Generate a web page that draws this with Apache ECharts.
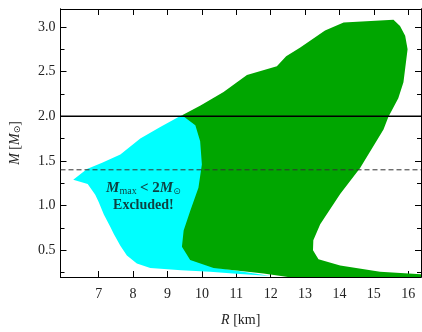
<!DOCTYPE html>
<html><head><meta charset="utf-8">
<script src="https://cdn.jsdelivr.net/npm/echarts@6/dist/echarts.min.js"></script>
<style>html,body{margin:0;padding:0;background:#fff}#c{width:422px;height:332px}</style>
</head><body><div id="c"></div>
<script>
const xRange = [5.89, 16.37];
const yRange = [0.2, 3.2];
const xTicks = [7, 8, 9, 10, 11, 12, 13, 14, 15, 16];
const yMajor = [0.5, 1.0, 1.5, 2.0, 2.5, 3.0];
const yMinor = [0.25, 0.75, 1.25, 1.75, 2.25, 2.75];
const excludedRegion = [
  [6.26,1.29],[6.66,1.41],[7.1,1.48],[7.63,1.57],[8.21,1.75],[8.79,1.88],[9.32,1.99],[9.42,2.01],
  [9.9,1.9],[10.1,1.6],[10.1,1.0],[10.0,0.5],[10.5,0.3],
  [12.0,0.21],[11.0,0.235],[10.24,0.26],[9.4,0.275],[8.5,0.30],[8.11,0.35],[7.82,0.44],[7.63,0.55],
  [7.44,0.68],[7.34,0.76],[7.15,0.90],[7.0,1.04],[6.9,1.12],[6.68,1.24]
];
const allowedRegion = [
  [9.37,2.0],[9.96,2.12],[10.63,2.27],[11.31,2.46],[12.18,2.56],[12.45,2.67],[12.86,2.77],[13.58,2.96],
  [14.12,3.05],[15.57,3.08],[15.76,3.01],[15.91,2.90],[15.98,2.75],[15.86,2.38],[15.71,2.20],[15.42,1.99],
  [15.28,1.85],[14.60,1.42],[14.02,1.13],[13.44,0.79],[13.24,0.61],[13.23,0.50],[13.39,0.40],[14.02,0.33],
  [15.18,0.26],[16.37,0.23],[16.37,0.2],[12.5,0.2],[11.79,0.24],[10.34,0.30],[9.66,0.39],[9.42,0.54],
  [9.47,0.72],[9.66,0.94],[9.90,1.20],[10.0,1.46],[9.95,1.72],[9.81,1.90],[9.42,2.01]
];
const maxMassLine = [[5.89,2.0],[16.37,2.0]];
const canonicalLine = [[5.89,1.4],[16.37,1.4]];
const annotationPos = [[8.3,1.1]];

const FONT = 'Liberation Serif';
function polySeries(pts, color){
  return {type:'custom', data: pts, clip:true, silent:true,
    renderItem: function(params, api){
      if (params.dataIndex !== 0) return null;
      return {type:'polygon', shape:{points: pts.map(p => api.coord(p))}, style:{fill: color}};
    }};
}
function xAx(pos, labels){
  return {type:'value', position:pos, min:xRange[0], max:xRange[1],
    axisLine:{show:true, onZero:false, lineStyle:{color:'#000', width:1}},
    axisTick:{show:true, inside:true, length:6, customValues:xTicks, lineStyle:{color:'#000'}},
    axisLabel:{show:labels, customValues:xTicks, fontFamily:FONT, fontSize:14, color:'#222', margin:10},
    splitLine:{show:false},
    name: labels ? '{i|R} [km]' : '', nameLocation:'middle', nameGap:36,
    nameTextStyle:{fontFamily:FONT, fontSize:14, color:'#222', rich:{i:{fontStyle:'italic', fontFamily:FONT, fontSize:14, color:'#222'}}}
  };
}
function yAx(pos, vals, len, labels){
  return {type:'value', position:pos, min:yRange[0], max:yRange[1], offset:0,
    axisLine:{show:true, onZero:false, lineStyle:{color:'#000', width:1}},
    axisTick:{show:true, inside:true, length:len, customValues:vals, lineStyle:{color:'#000'}},
    axisLabel:{show:labels, customValues:vals, fontFamily:FONT, fontSize:14, color:'#222', margin:5,
      formatter: v => v.toFixed(1)},
    splitLine:{show:false},
    name: labels ? '{i|M} [{i|M}{s|⊙}]' : '', nameLocation:'middle', nameGap:38, nameRotate:90,
    nameTextStyle:{fontFamily:FONT, fontSize:14, color:'#222',
      rich:{i:{fontStyle:'italic', fontFamily:FONT, fontSize:14, color:'#222'},
            s:{fontFamily:'DejaVu Sans', fontSize:9, color:'#222', verticalAlign:'bottom', padding:[6,0,0,0]}}}
  };
}
const chart = echarts.init(document.getElementById('c'), null, {renderer:'canvas'});
chart.setOption({
  animation:false,
  grid:{left:60, right:1, top:9, bottom:52, containLabel:false},
  xAxis:[xAx('bottom', true), xAx('top', false)],
  yAxis:[yAx('left', yMajor, 6, true), yAx('left', yMinor, 4, false), yAx('right', yMajor, 6, false), yAx('right', yMinor, 4, false)],
  series:[
    polySeries(excludedRegion, '#00FFFF'),
    polySeries(allowedRegion, '#00A600'),
    {type:'line', data:maxMassLine, symbol:'none', silent:true, lineStyle:{color:'#000', width:1.4}, z:5},
    {type:'line', data:canonicalLine, symbol:'none', silent:true, lineStyle:{color:'#333', width:1, type:[5,3]}, z:5},
    {type:'scatter', data:annotationPos, symbolSize:0, silent:true, z:6,
      label:{show:true, position:'inside', align:'center', verticalAlign:'middle',
        formatter:'{i|M}{s|max} {b|< 2}{i|M}{o|⊙}\n{e|Excluded!}',
        rich:{
          i:{fontFamily:FONT, fontStyle:'italic', fontWeight:'bold', fontSize:15, color:'#111', lineHeight:17},
          s:{fontFamily:FONT, fontSize:10, color:'#111', verticalAlign:'bottom', padding:[5,0,0,0], lineHeight:17},
          o:{fontFamily:'DejaVu Sans', fontSize:9, color:'#111', verticalAlign:'bottom', padding:[5,0,0,0], lineHeight:17},
          b:{fontFamily:FONT, fontWeight:'bold', fontSize:15, color:'#111', lineHeight:17},
          e:{fontFamily:FONT, fontWeight:'bold', fontSize:14, color:'#111', lineHeight:17}
        }}}
  ]
});
</script></body></html>
